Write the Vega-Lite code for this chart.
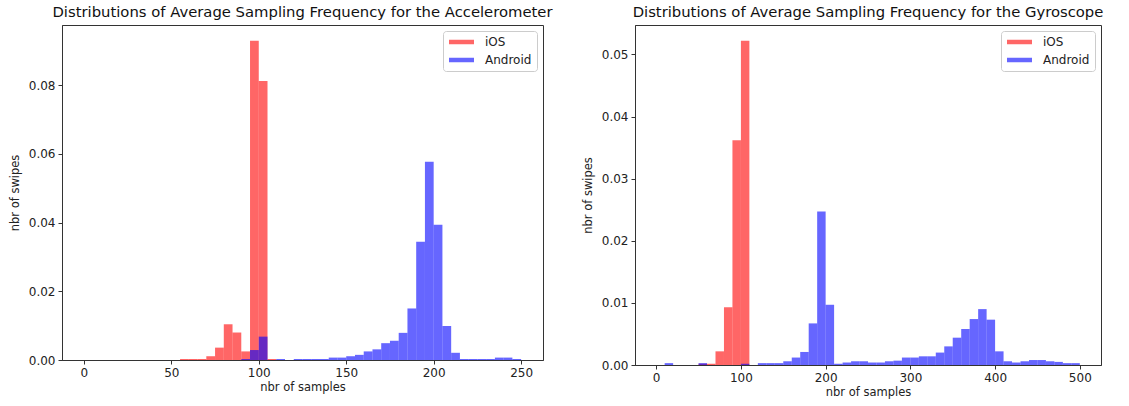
{
  "$schema": "https://vega.github.io/schema/vega-lite/v6.json",
  "padding": {"left": 8, "top": 4, "right": 5, "bottom": 5},
  "background": "white",
  "config": {
    "font": "DejaVu Sans",
    "view": {"stroke": "#333", "strokeWidth": 1},
    "axis": {"grid": false, "domainColor": "#333", "tickColor": "#333", "labelColor": "#222", "titleColor": "#222", "labelFontSize": 12, "titleFontSize": 11.5, "titleFontWeight": "normal", "tickSize": 4, "labelPadding": 3, "domainWidth": 1, "labelFont": "DejaVu Sans", "titleFont": "DejaVu Sans"},
    "axisY": {"titlePadding": 8},
    "axisX": {"titlePadding": 3},
    "title": {"fontSize": 14.8, "fontWeight": "normal", "color": "#111", "offset": 5, "font": "DejaVu Sans"},
    "legend": {"orient": "top-right", "offset": 6, "padding": 5, "strokeColor": "#ccc", "fillColor": "white", "cornerRadius": 3, "symbolType": "M-2.5,-0.45L2.5,-0.45L2.5,0.45L-2.5,0.45Z", "symbolSize": 100, "symbolOffset": 7.5, "symbolOpacity": 0.6, "symbolStrokeWidth": 0, "labelFontSize": 12, "labelOffset": 17.5, "rowPadding": 6, "labelColor": "#222", "labelFont": "DejaVu Sans"},
    "concat": {"spacing": 27}
  },
  "datasets": {
    "acc": [
      {"os": "iOS", "b0": 55, "b1": 60, "v": 0.0003},
      {"os": "iOS", "b0": 60, "b1": 65, "v": 0.0003},
      {"os": "iOS", "b0": 65, "b1": 70, "v": 0.0003},
      {"os": "iOS", "b0": 70, "b1": 75, "v": 0.0011},
      {"os": "iOS", "b0": 75, "b1": 80, "v": 0.0036},
      {"os": "iOS", "b0": 80, "b1": 85, "v": 0.0104},
      {"os": "iOS", "b0": 85, "b1": 90, "v": 0.0080},
      {"os": "iOS", "b0": 90, "b1": 95, "v": 0.0025},
      {"os": "iOS", "b0": 95, "b1": 100, "v": 0.0929},
      {"os": "iOS", "b0": 100, "b1": 105, "v": 0.0812},
      {"os": "iOS", "b0": 105, "b1": 110, "v": 0.0003},
      {"os": "Android", "b0": 90, "b1": 95, "v": 0.0003},
      {"os": "Android", "b0": 95, "b1": 100, "v": 0.0029},
      {"os": "Android", "b0": 100, "b1": 105, "v": 0.0068},
      {"os": "Android", "b0": 110, "b1": 115, "v": 0.0003},
      {"os": "Android", "b0": 120, "b1": 125, "v": 0.0003},
      {"os": "Android", "b0": 125, "b1": 130, "v": 0.0003},
      {"os": "Android", "b0": 130, "b1": 135, "v": 0.0003},
      {"os": "Android", "b0": 135, "b1": 140, "v": 0.0003},
      {"os": "Android", "b0": 140, "b1": 145, "v": 0.0007},
      {"os": "Android", "b0": 145, "b1": 150, "v": 0.0007},
      {"os": "Android", "b0": 150, "b1": 155, "v": 0.0011},
      {"os": "Android", "b0": 155, "b1": 160, "v": 0.0015},
      {"os": "Android", "b0": 160, "b1": 165, "v": 0.0025},
      {"os": "Android", "b0": 165, "b1": 170, "v": 0.0031},
      {"os": "Android", "b0": 170, "b1": 175, "v": 0.0049},
      {"os": "Android", "b0": 175, "b1": 180, "v": 0.0056},
      {"os": "Android", "b0": 180, "b1": 185, "v": 0.0079},
      {"os": "Android", "b0": 185, "b1": 190, "v": 0.0150},
      {"os": "Android", "b0": 190, "b1": 195, "v": 0.0344},
      {"os": "Android", "b0": 195, "b1": 200, "v": 0.0577},
      {"os": "Android", "b0": 200, "b1": 205, "v": 0.0394},
      {"os": "Android", "b0": 205, "b1": 210, "v": 0.0099},
      {"os": "Android", "b0": 210, "b1": 215, "v": 0.0021},
      {"os": "Android", "b0": 215, "b1": 220, "v": 0.0003},
      {"os": "Android", "b0": 220, "b1": 225, "v": 0.0003},
      {"os": "Android", "b0": 225, "b1": 230, "v": 0.0003},
      {"os": "Android", "b0": 230, "b1": 235, "v": 0.0003},
      {"os": "Android", "b0": 235, "b1": 240, "v": 0.0007},
      {"os": "Android", "b0": 240, "b1": 245, "v": 0.0007},
      {"os": "Android", "b0": 245, "b1": 250, "v": 0.0003}
    ],
    "gyr": [
      {"os": "iOS", "b0": 50, "b1": 60, "v": 0.0002},
      {"os": "iOS", "b0": 60, "b1": 70, "v": 0.0002},
      {"os": "iOS", "b0": 70, "b1": 80, "v": 0.0022},
      {"os": "iOS", "b0": 80, "b1": 90, "v": 0.0093},
      {"os": "iOS", "b0": 90, "b1": 100, "v": 0.0362},
      {"os": "iOS", "b0": 100, "b1": 110, "v": 0.0522},
      {"os": "Android", "b0": 10, "b1": 20, "v": 0.0003},
      {"os": "Android", "b0": 50, "b1": 60, "v": 0.0003},
      {"os": "Android", "b0": 100, "b1": 110, "v": 0.0002},
      {"os": "Android", "b0": 120, "b1": 130, "v": 0.0003},
      {"os": "Android", "b0": 130, "b1": 140, "v": 0.0003},
      {"os": "Android", "b0": 140, "b1": 150, "v": 0.0003},
      {"os": "Android", "b0": 150, "b1": 160, "v": 0.0006},
      {"os": "Android", "b0": 160, "b1": 170, "v": 0.0012},
      {"os": "Android", "b0": 170, "b1": 180, "v": 0.0021},
      {"os": "Android", "b0": 180, "b1": 190, "v": 0.0067},
      {"os": "Android", "b0": 190, "b1": 200, "v": 0.0247},
      {"os": "Android", "b0": 200, "b1": 210, "v": 0.0097},
      {"os": "Android", "b0": 210, "b1": 220, "v": 0.0002},
      {"os": "Android", "b0": 220, "b1": 230, "v": 0.0004},
      {"os": "Android", "b0": 230, "b1": 240, "v": 0.0006},
      {"os": "Android", "b0": 240, "b1": 250, "v": 0.0006},
      {"os": "Android", "b0": 250, "b1": 260, "v": 0.0004},
      {"os": "Android", "b0": 260, "b1": 270, "v": 0.0004},
      {"os": "Android", "b0": 270, "b1": 280, "v": 0.0006},
      {"os": "Android", "b0": 280, "b1": 290, "v": 0.0007},
      {"os": "Android", "b0": 290, "b1": 300, "v": 0.0012},
      {"os": "Android", "b0": 300, "b1": 310, "v": 0.0012},
      {"os": "Android", "b0": 310, "b1": 320, "v": 0.0014},
      {"os": "Android", "b0": 320, "b1": 330, "v": 0.0014},
      {"os": "Android", "b0": 330, "b1": 340, "v": 0.0020},
      {"os": "Android", "b0": 340, "b1": 350, "v": 0.0030},
      {"os": "Android", "b0": 350, "b1": 360, "v": 0.0044},
      {"os": "Android", "b0": 360, "b1": 370, "v": 0.0058},
      {"os": "Android", "b0": 370, "b1": 380, "v": 0.0074},
      {"os": "Android", "b0": 380, "b1": 390, "v": 0.0090},
      {"os": "Android", "b0": 390, "b1": 400, "v": 0.0073},
      {"os": "Android", "b0": 400, "b1": 410, "v": 0.0022},
      {"os": "Android", "b0": 410, "b1": 420, "v": 0.0006},
      {"os": "Android", "b0": 420, "b1": 430, "v": 0.0004},
      {"os": "Android", "b0": 430, "b1": 440, "v": 0.0006},
      {"os": "Android", "b0": 440, "b1": 450, "v": 0.0008},
      {"os": "Android", "b0": 450, "b1": 460, "v": 0.0008},
      {"os": "Android", "b0": 460, "b1": 470, "v": 0.0006},
      {"os": "Android", "b0": 470, "b1": 480, "v": 0.0005},
      {"os": "Android", "b0": 480, "b1": 490, "v": 0.0003},
      {"os": "Android", "b0": 490, "b1": 500, "v": 0.0003}
    ]
  },
  "resolve": {"scale": {"color": "independent"}},
  "hconcat": [
    {
      "width": 481,
      "height": 335,
      "title": "Distributions of Average Sampling Frequency for the Accelerometer",
      "data": {"name": "acc"},
      "mark": {"type": "bar", "opacity": 0.6},
      "encoding": {
        "x": {"field": "b0", "type": "quantitative", "scale": {"domain": [-12.5, 262.5], "nice": false, "zero": false}, "axis": {"values": [0, 50, 100, 150, 200, 250], "title": "nbr of samples"}},
        "x2": {"field": "b1"},
        "y": {"field": "v", "type": "quantitative", "stack": null, "scale": {"domain": [0, 0.0975], "nice": false}, "axis": {"values": [0, 0.02, 0.04, 0.06, 0.08], "format": ".2f", "title": "nbr of swipes"}},
        "y2": {"datum": 0},
        "color": {"field": "os", "type": "nominal", "scale": {"domain": ["iOS", "Android"], "range": ["#ff0000", "#0000ff"]}, "legend": {"title": null}}
      }
    },
    {
      "width": 466,
      "height": 340,
      "title": "Distributions of Average Sampling Frequency for the Gyroscope",
      "data": {"name": "gyr"},
      "mark": {"type": "bar", "opacity": 0.6},
      "encoding": {
        "x": {"field": "b0", "type": "quantitative", "scale": {"domain": [-25, 525], "nice": false, "zero": false}, "axis": {"values": [0, 100, 200, 300, 400, 500], "title": "nbr of samples"}},
        "x2": {"field": "b1"},
        "y": {"field": "v", "type": "quantitative", "stack": null, "scale": {"domain": [0, 0.05475], "nice": false}, "axis": {"values": [0, 0.01, 0.02, 0.03, 0.04, 0.05], "format": ".2f", "title": "nbr of swipes"}},
        "y2": {"datum": 0},
        "color": {"field": "os", "type": "nominal", "scale": {"domain": ["iOS", "Android"], "range": ["#ff0000", "#0000ff"]}, "legend": {"title": null}}
      }
    }
  ]
}
